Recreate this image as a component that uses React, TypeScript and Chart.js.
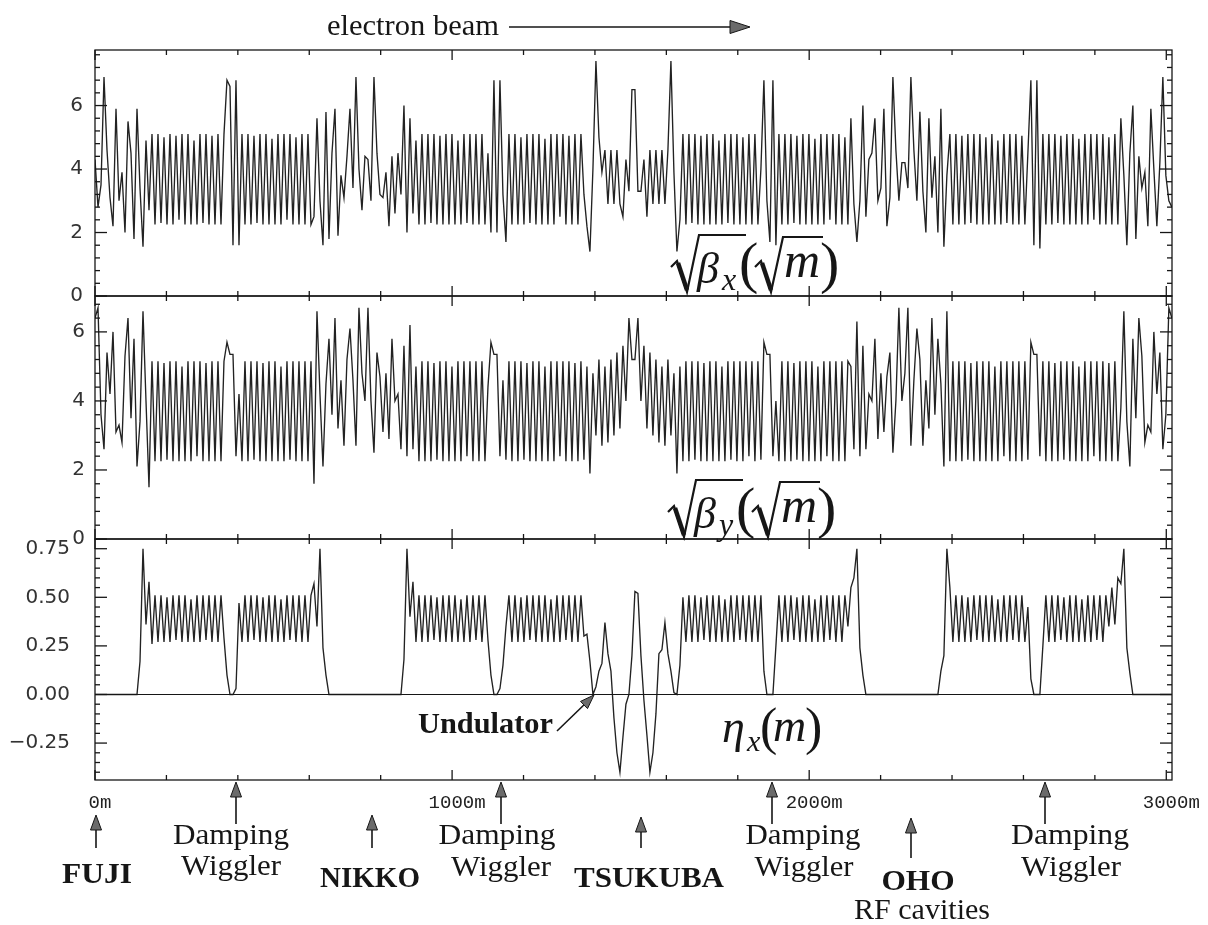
import React, { useEffect, useRef } from 'react';
import { Chart, registerables } from 'chart.js';

Chart.register(...registerables);

// ---------------- data ----------------
// Lattice functions sampled every S_STEP_M metres along the ring (0 .. 3016 m).
const S_STEP_M = 8.4;
const S_MAX_M = 3016;
const X_LABEL_VALUES = [0, 1000, 2000, 3000];
const BETA_LABEL_VALUES = [0, 2, 4, 6];
const ETA_LABEL_VALUES = [-0.25, 0, 0.25, 0.5, 0.75];

// sqrt(beta_x) [sqrt(m)]
const bxFujiIn = [4.3, 2.8, 3.5, 6.9, 4.6, 3.1, 2.2, 5.9, 3.0, 3.9, 2.0, 5.5, 4.5, 1.8, 5.9, 3.4, 1.55, 4.9, 2.7];
const bxArc1 = [5.1, 2.25, 5.1, 2.3, 5.0, 2.25, 5.1, 2.25, 5.05, 2.4, 5.1, 2.25, 5.1, 2.25, 4.9, 2.25, 5.1, 2.3, 5.1, 2.25, 5.05, 2.25, 5.1, 2.25, 5.1];
const bxWig1 = [6.8, 6.6, 1.6, 6.8, 1.6];
const bxArc2 = [5.1, 2.25, 5.1, 2.25, 5.05, 2.3, 5.1, 2.25, 5.1, 2.25, 4.95, 2.25, 5.1, 2.25, 5.1, 2.4, 5.1, 2.25, 5.0, 2.25, 5.1, 2.25, 5.1, 2.25];
const bxNikko = [2.5, 5.6, 3.0, 1.6, 5.8, 1.8, 4.5, 5.9, 1.9, 3.8, 3.1, 4.4, 5.9, 3.4, 6.9, 4.0, 2.7, 4.4, 4.3, 3.0, 6.9, 4.5, 3.2, 3.1, 3.9, 2.2, 4.4, 2.6, 4.5, 3.2, 6.0, 2.0, 5.6, 2.6, 4.9];
const bxArc3 = [2.25, 5.1, 2.25, 5.1, 2.3, 5.1, 2.25, 5.05, 2.25, 5.1, 2.25, 5.1, 2.25, 4.9, 2.25, 5.1, 2.3, 5.1, 2.25, 5.1, 2.25, 5.1, 2.25];
const bxWig2 = [4.5, 2.0, 6.8, 2.0, 6.8, 3.2, 1.7];
const bxArc4 = [5.1, 2.25, 5.1, 2.25, 5.0, 2.25, 5.1, 2.3, 5.1, 2.25, 5.1, 2.25, 4.95, 2.25, 5.1, 2.25, 5.1, 2.5, 5.1, 2.25, 5.05, 2.25, 5.1, 2.25, 5.1];
const bxTsukuba = [3.2, 2.2, 1.4, 4.0, 7.4, 5.0, 3.9, 4.6, 2.9, 4.6, 2.9, 4.6, 2.9, 2.5, 4.3, 3.3, 6.5, 6.5, 3.3, 3.3, 4.3, 2.5, 4.6, 2.9, 4.6, 2.9, 4.6, 2.9, 4.6, 7.4, 3.9, 1.4, 2.4];
const bxArc5 = [5.1, 2.25, 5.1, 2.3, 5.1, 2.25, 5.05, 2.25, 5.1, 2.25, 5.1, 2.25, 4.9, 2.25, 5.1, 2.3, 5.1, 2.25, 5.1, 2.25, 5.0, 2.25, 5.1, 2.25, 5.1, 2.25];
const bxWig3 = [4.0, 6.8, 3.0, 1.7, 6.8, 1.6];
const bxArc6 = [5.1, 2.25, 5.1, 2.25, 5.1, 2.3, 5.05, 2.25, 5.1, 2.25, 5.1, 2.25, 4.95, 2.25, 5.1, 2.25, 5.1, 2.4, 5.1, 2.25, 5.1, 2.25, 5.0, 2.25];
const bxOho = [5.6, 2.9, 1.7, 3.0, 6.0, 2.5, 4.3, 4.5, 5.6, 3.0, 3.4, 5.9, 2.2, 3.1, 6.9, 4.6, 3.0, 4.2, 4.2, 3.4, 6.9, 4.6, 3.0, 5.8, 3.3, 2.0, 5.6, 3.1, 4.4, 2.0, 5.9, 1.55, 3.8];
const bxArc7 = [5.1, 2.25, 5.1, 2.25, 5.05, 2.25, 5.1, 2.3, 5.1, 2.25, 5.1, 2.25, 5.0, 2.25, 5.1, 2.25, 4.9, 2.25, 5.1, 2.3, 5.1, 2.25, 5.1, 2.25, 5.05, 2.25];
const bxWig4 = [4.5, 6.8, 1.6, 6.8, 1.5];
const bxArc8 = [5.1, 2.25, 5.1, 2.25, 5.1, 2.3, 5.05, 2.25, 5.1, 2.25, 5.1, 2.25, 4.95, 2.25, 5.1, 2.25, 5.1, 2.4, 5.1, 2.25, 5.1, 2.25, 5.0, 2.25, 5.1, 2.25];
const bxFujiOut = [5.6, 3.8, 1.6, 4.5, 6.0, 1.8, 4.4, 3.4, 3.9, 2.2, 5.9, 4.0, 2.2, 4.2, 6.9, 3.8, 3.0, 2.8];

// sqrt(beta_y) [sqrt(m)]
const byFujiIn = [6.4, 6.7, 3.6, 2.6, 5.4, 4.2, 6.0, 3.1, 3.3, 2.8, 5.3, 6.4, 3.5, 5.8, 2.1, 3.4, 6.6, 4.0, 1.5];
const byArc1 = [5.15, 2.25, 5.15, 2.25, 5.1, 2.3, 5.15, 2.25, 5.15, 2.25, 5.0, 2.25, 5.15, 2.25, 5.15, 2.4, 5.15, 2.25, 5.1, 2.25, 5.15, 2.25, 5.15, 2.25, 5.15];
const byWig1 = [5.7, 5.35, 5.35, 2.4, 4.2];
const byArc2 = [2.25, 5.15, 2.25, 5.15, 2.3, 5.15, 2.25, 5.1, 2.25, 5.15, 2.25, 5.15, 2.25, 5.0, 2.25, 5.15, 2.3, 5.15, 2.25, 5.15, 2.25, 5.15, 2.25, 5.15];
const byNikko = [1.6, 6.6, 4.2, 2.1, 4.5, 5.8, 3.6, 6.4, 3.2, 4.6, 2.7, 5.2, 6.1, 4.6, 2.7, 6.7, 4.8, 4.0, 6.7, 4.0, 2.5, 5.4, 4.7, 3.1, 4.8, 2.9, 5.8, 4.0, 4.2, 2.6, 5.6, 2.4, 6.2, 2.6, 5.0];
const byArc3 = [2.25, 5.15, 2.25, 5.15, 2.25, 5.1, 2.3, 5.15, 2.25, 5.15, 2.25, 5.0, 2.25, 5.15, 2.25, 5.15, 2.4, 5.15, 2.25, 5.15, 2.25, 5.15, 2.25];
const byWig2 = [4.4, 5.7, 5.35, 5.35, 2.4, 4.6, 2.3];
const byArc4 = [5.15, 2.25, 5.15, 2.25, 5.15, 2.3, 5.1, 2.25, 5.15, 2.25, 5.15, 2.25, 5.0, 2.25, 5.15, 2.25, 5.15, 2.4, 5.15, 2.25, 5.15, 2.25, 5.1, 2.25, 5.15];
const byTsukuba = [2.3, 5.0, 1.9, 4.8, 3.0, 5.2, 2.7, 5.0, 2.8, 5.2, 3.0, 5.4, 3.2, 5.6, 4.0, 6.4, 5.2, 5.2, 6.4, 4.0, 5.6, 3.2, 5.4, 3.0, 5.2, 2.8, 5.0, 2.7, 5.2, 3.0, 4.8, 1.9, 5.0];
const byArc5 = [2.25, 5.15, 2.25, 5.15, 2.3, 5.15, 2.25, 5.1, 2.25, 5.15, 2.25, 5.15, 2.25, 5.0, 2.25, 5.15, 2.3, 5.15, 2.25, 5.15, 2.25, 5.15, 2.4, 5.15, 2.25, 5.15];
const byWig3 = [2.3, 5.7, 5.35, 5.35, 2.4, 4.0];
const byArc6 = [2.25, 5.15, 2.25, 5.15, 2.25, 5.1, 2.3, 5.15, 2.25, 5.15, 2.25, 5.15, 2.25, 5.0, 2.25, 5.15, 2.4, 5.15, 2.25, 5.15, 2.25, 5.15, 2.25, 5.15];
const byOho = [5.0, 2.6, 6.3, 2.4, 5.6, 2.6, 4.2, 4.0, 5.8, 2.9, 4.8, 3.1, 4.7, 5.4, 2.5, 4.0, 6.7, 4.0, 4.8, 6.7, 2.7, 4.6, 6.1, 5.2, 2.7, 4.6, 3.2, 6.4, 3.6, 5.8, 4.5, 2.1, 6.6];
const byArc7 = [2.25, 5.15, 2.25, 5.15, 2.25, 5.15, 2.3, 5.1, 2.25, 5.15, 2.25, 5.15, 2.25, 5.15, 2.25, 5.0, 2.25, 5.15, 2.4, 5.15, 2.25, 5.15, 2.25, 5.15, 2.25, 5.15];
const byWig4 = [2.3, 5.7, 5.35, 5.35, 2.4];
const byArc8 = [5.15, 2.25, 5.15, 2.25, 5.1, 2.25, 5.15, 2.3, 5.15, 2.25, 5.15, 2.25, 5.0, 2.25, 5.15, 2.25, 5.15, 2.4, 5.15, 2.25, 5.15, 2.25, 5.1, 2.25, 5.15, 2.25];
const byFujiOut = [3.8, 6.6, 3.4, 2.1, 5.8, 3.5, 6.4, 5.3, 2.8, 3.3, 3.1, 6.0, 4.2, 5.4, 2.6, 3.6, 6.7, 6.4];

// eta_x [m]
const exStraightFujiIn = [0, 0, 0, 0, 0, 0, 0, 0, 0, 0, 0, 0, 0, 0];
const exRise1 = [0.0, 0.17, 0.75, 0.36, 0.58, 0.26];
const exArc1 = [0.51, 0.27, 0.51, 0.27, 0.5, 0.27, 0.51, 0.28, 0.51, 0.27, 0.51, 0.27, 0.49, 0.27, 0.51, 0.27, 0.51, 0.28, 0.51, 0.27, 0.51, 0.27, 0.51];
const exGap1 = [0.29, 0.10, 0.0, 0.0, 0.03, 0.47];
const exArc2 = [0.27, 0.51, 0.27, 0.51, 0.28, 0.51, 0.27, 0.5, 0.27, 0.51, 0.27, 0.51, 0.27, 0.49, 0.27, 0.51, 0.28, 0.51, 0.27, 0.51, 0.27, 0.51, 0.27, 0.51];
const exFall2 = [0.57, 0.35, 0.75, 0.24, 0.10, 0.0];
const exStraightNikko = [0, 0, 0, 0, 0, 0, 0, 0, 0, 0, 0, 0, 0, 0, 0, 0, 0, 0, 0, 0, 0, 0, 0];
const exRise3 = [0.0, 0.18, 0.75, 0.40, 0.58, 0.27];
const exArc3 = [0.51, 0.27, 0.51, 0.27, 0.51, 0.28, 0.5, 0.27, 0.51, 0.27, 0.51, 0.27, 0.51, 0.27, 0.49, 0.27, 0.51, 0.27, 0.51, 0.28, 0.51, 0.27, 0.51];
const exGap2 = [0.28, 0.10, 0.0, 0.0, 0.03, 0.15, 0.35];
const exArc4 = [0.51, 0.27, 0.51, 0.27, 0.5, 0.27, 0.51, 0.28, 0.51, 0.27, 0.51, 0.27, 0.51, 0.27, 0.49, 0.27, 0.51, 0.27, 0.51, 0.28, 0.51, 0.27, 0.51, 0.27, 0.51];
const exTsukuba = [0.30, 0.31, 0.17, 0.0, 0.04, 0.12, 0.16, 0.37, 0.21, 0.12, -0.12, -0.30, -0.40, -0.22, -0.05, 0.0, 0.20, 0.53, 0.52, 0.20, -0.03, -0.21, -0.40, -0.30, -0.10, 0.21, 0.23, 0.37, 0.21, 0.12, 0.01, 0.0, 0.15, 0.50];
const exArc5 = [0.27, 0.51, 0.27, 0.51, 0.27, 0.5, 0.28, 0.51, 0.27, 0.51, 0.27, 0.51, 0.27, 0.49, 0.27, 0.51, 0.27, 0.51, 0.28, 0.51, 0.27, 0.51, 0.27, 0.51, 0.27];
const exGap3 = [0.51, 0.12, 0.0, 0.0, 0.0, 0.25];
const exArc6 = [0.51, 0.27, 0.51, 0.27, 0.51, 0.28, 0.5, 0.27, 0.51, 0.27, 0.51, 0.27, 0.49, 0.27, 0.51, 0.27, 0.51, 0.28, 0.51, 0.27, 0.51, 0.27, 0.51, 0.35, 0.55];
const exFall3 = [0.60, 0.75, 0.24, 0.10];
const exStraightOho = [0, 0, 0, 0, 0, 0, 0, 0, 0, 0, 0, 0, 0, 0, 0, 0, 0, 0, 0, 0, 0, 0, 0, 0, 0];
const exRise4 = [0.12, 0.20, 0.75, 0.55, 0.27];
const exArc7 = [0.51, 0.27, 0.51, 0.27, 0.5, 0.27, 0.51, 0.28, 0.51, 0.27, 0.51, 0.27, 0.51, 0.27, 0.49, 0.27, 0.51, 0.27, 0.51, 0.28, 0.51, 0.27, 0.51, 0.27];
const exGap4 = [0.45, 0.08, 0.0, 0.0, 0.0, 0.25];
const exArc8 = [0.51, 0.27, 0.51, 0.27, 0.51, 0.28, 0.5, 0.27, 0.51, 0.27, 0.51, 0.27, 0.49, 0.27, 0.51, 0.27, 0.51, 0.28, 0.51, 0.27, 0.51, 0.35, 0.55, 0.36, 0.6];
const exFall4 = [0.57, 0.75, 0.24, 0.11, 0.0];
const exStraightFujiOut = [0, 0, 0, 0, 0, 0, 0, 0, 0, 0, 0, 0, 0];

const sqrtBetaX = [
  ...bxFujiIn, ...bxArc1, ...bxWig1, ...bxArc2, ...bxNikko, ...bxArc3, ...bxWig2, ...bxArc4,
  ...bxTsukuba, ...bxArc5, ...bxWig3, ...bxArc6, ...bxOho, ...bxArc7, ...bxWig4, ...bxArc8, ...bxFujiOut,
];
const sqrtBetaY = [
  ...byFujiIn, ...byArc1, ...byWig1, ...byArc2, ...byNikko, ...byArc3, ...byWig2, ...byArc4,
  ...byTsukuba, ...byArc5, ...byWig3, ...byArc6, ...byOho, ...byArc7, ...byWig4, ...byArc8, ...byFujiOut,
];
const etaX = [
  ...exStraightFujiIn, ...exRise1, ...exArc1, ...exGap1, ...exArc2, ...exFall2, ...exStraightNikko,
  ...exRise3, ...exArc3, ...exGap2, ...exArc4, ...exTsukuba, ...exArc5, ...exGap3, ...exArc6, ...exFall3,
  ...exStraightOho, ...exRise4, ...exArc7, ...exGap4, ...exArc8, ...exFall4, ...exStraightFujiOut,
];

// ---------------- styling ----------------
const W = 1208;
const H = 925;
const SERIF = "'Liberation Serif', 'Times New Roman', serif";
const INK = '#161616';
const LINE = '#222222';
const ARROW_FILL = '#6b6b6b';

const PANELS = [
  { id: 'yA', minor: 0.4, major: 2 },
  { id: 'yB', minor: 0.4, major: 2 },
  { id: 'yC', minor: 0.05, major: 0.25 },
];

const toPoints = (arr: number[]) => arr.map((v, i) => ({ x: i * S_STEP_M, y: v }));

const framePlugin = {
  id: 'panelFrames',
  afterDatasetsDraw(chart: any) {
    const { ctx, chartArea } = chart;
    const xs = chart.scales.x;
    const L = chartArea.left;
    const R = chartArea.right;
    const seg = (x1: number, y1: number, x2: number, y2: number) => {
      ctx.beginPath();
      ctx.moveTo(x1, y1);
      ctx.lineTo(x2, y2);
      ctx.stroke();
    };
    ctx.save();
    ctx.strokeStyle = INK;
    ctx.lineWidth = 1.3;
    PANELS.forEach((p) => {
      const ys = chart.scales[p.id];
      const T = ys.top;
      const B = ys.bottom;
      ctx.strokeRect(L, T, R - L, B - T);
      for (let m = 0; m <= 3000; m += 200) {
        const px = xs.getPixelForValue(m);
        const len = m % 1000 === 0 ? 10 : 5;
        seg(px, T, px, T + len);
        seg(px, B, px, B - len);
      }
      const k0 = Math.ceil(ys.min / p.minor - 1e-9);
      const k1 = Math.floor(ys.max / p.minor + 1e-9);
      for (let k = k0; k <= k1; k++) {
        const v = k * p.minor;
        const py = ys.getPixelForValue(v);
        const r = v / p.major;
        const isMajor = Math.abs(r - Math.round(r)) < 1e-6;
        const len = isMajor ? 12 : 5;
        seg(L, py, L + len, py);
        seg(R, py, R - len, py);
      }
    });
    const yc = chart.scales.yC;
    const y0 = yc.getPixelForValue(0);
    ctx.lineWidth = 1.2;
    seg(L, y0, R, y0);
    ctx.restore();
  },
};

function yScale(id: string, min: number, max: number, weight: number, labels: number[], pad: number, fmt: (v: number) => string) {
  return {
    type: 'linear',
    position: 'left',
    stack: 'panels',
    stackWeight: weight,
    min,
    max,
    grid: { display: false, drawTicks: false },
    border: { display: false },
    ticks: {
      autoSkip: false,
      padding: pad,
      color: '#333',
      font: { family: "'DejaVu Sans', sans-serif", size: 20 },
      callback: (v: number) => fmt(v),
    },
    afterBuildTicks: (scale: any) => {
      scale.ticks = labels.map((v) => ({ value: v }));
    },
    afterFit: (scale: any) => {
      scale.width = 95;
      scale.paddingTop = 0;
      scale.paddingBottom = 0;
    },
  };
}

function Arrow({ x, top, bottom }: { x: number; top: number; bottom: number }) {
  return (
    <g>
      <line x1={x} y1={top + 12} x2={x} y2={bottom} stroke={INK} strokeWidth={1.6} />
      <polygon points={`${x},${top} ${x - 5.5},${top + 15} ${x + 5.5},${top + 15}`} fill={ARROW_FILL} stroke={INK} strokeWidth={1} />
    </g>
  );
}

function Label({ x, y, w, text, bold }: { x: number; y: number; w: number; text: string; bold?: boolean }) {
  return (
    <text
      x={x}
      y={y}
      textAnchor="middle"
      textLength={w}
      lengthAdjust="spacingAndGlyphs"
      fontFamily={SERIF}
      fontSize={bold ? 30 : 29}
      fontWeight={bold ? 'bold' : 'normal'}
      fill={INK}
    >
      {text}
    </text>
  );
}

function SqrtBeta({ sub, dx, dy }: { sub: string; dx: number; dy: number }) {
  return (
    <g transform={`translate(${dx},${dy})`} fill={INK} fontFamily={SERIF}>
      <path d="M671 267 L677 261 L687 292 L699 235 L746 235" fill="none" stroke={INK} strokeWidth={2.2} />
      <path d="M678 263 L687 290" stroke={INK} strokeWidth={4.5} />
      <text x={697} y={283} fontSize={44} fontStyle="italic">β</text>
      <text x={722} y={290} fontSize={32} fontStyle="italic">{sub}</text>
      <text x={739} y={282} fontSize={58}>(</text>
      <path d="M755 267 L761 261 L771 292 L783 237 L823 237" fill="none" stroke={INK} strokeWidth={2.2} />
      <path d="M762 263 L771 290" stroke={INK} strokeWidth={4.5} />
      <text x={784} y={277} fontSize={50} fontStyle="italic">m</text>
      <text x={820} y={282} fontSize={58}>)</text>
    </g>
  );
}

export default function App() {
  const ref = useRef<HTMLCanvasElement>(null);

  useEffect(() => {
    if (!ref.current) return;
    const lineStyle = {
      borderColor: LINE,
      borderWidth: 1.35,
      pointRadius: 0,
      tension: 0,
      fill: false,
    };
    const chart = new Chart(ref.current, {
      type: 'line',
      data: {
        datasets: [
          { label: 'sqrt(beta_x)', data: toPoints(sqrtBetaX), yAxisID: 'yA', ...lineStyle },
          { label: 'sqrt(beta_y)', data: toPoints(sqrtBetaY), yAxisID: 'yB', ...lineStyle },
          { label: 'eta_x', data: toPoints(etaX), yAxisID: 'yC', ...lineStyle },
        ],
      } as any,
      options: {
        animation: false,
        responsive: false,
        maintainAspectRatio: false,
        devicePixelRatio: 1,
        events: [],
        layout: { padding: { left: 0, right: 36, top: 50, bottom: 105 } },
        plugins: { legend: { display: false }, tooltip: { enabled: false }, title: { display: false } },
        scales: {
          x: {
            type: 'linear',
            min: 0,
            max: S_MAX_M,
            grid: { display: false, drawTicks: false },
            border: { display: false },
            ticks: {
              autoSkip: false,
              maxRotation: 0,
              padding: 12,
              labelOffset: 5,
              color: '#222',
              font: { family: "'Liberation Mono', monospace", size: 19 },
              callback: (v: number) => `${v}m`,
            },
            afterBuildTicks: (scale: any) => {
              scale.ticks = X_LABEL_VALUES.map((v) => ({ value: v }));
            },
            afterFit: (scale: any) => {
              scale.height = 40;
              scale.paddingLeft = 0;
              scale.paddingRight = 0;
            },
          },
          yC: yScale('yC', -0.44, 0.8, 241, ETA_LABEL_VALUES, 25, (v) => (v < 0 ? '\u2212' + Math.abs(v).toFixed(2) : v.toFixed(2))),
          yB: yScale('yB', 0, 7.04, 243, BETA_LABEL_VALUES, 10, (v) => String(v)),
          yA: yScale('yA', 0, 7.75, 246, BETA_LABEL_VALUES, 12, (v) => String(v)),
        },
      } as any,
      plugins: [framePlugin],
    });
    return () => chart.destroy();
  }, []);

  return (
    <div style={{ position: 'fixed', left: 0, top: 0, width: W, height: H, background: '#fff', overflow: 'hidden' }}>
      <canvas ref={ref} width={W} height={H} style={{ position: 'absolute', left: 0, top: 0, width: W, height: H }} />
      <svg width={W} height={H} style={{ position: 'absolute', left: 0, top: 0 }}>
        {/* beam direction */}
        <text x={327} y={35} fontFamily={SERIF} fontSize={29} textLength={172} lengthAdjust="spacingAndGlyphs" fill={INK}>
          electron beam
        </text>
        <line x1={509} y1={27} x2={733} y2={27} stroke={INK} strokeWidth={1.6} />
        <polygon points="730,20.5 750,27 730,33.5" fill={ARROW_FILL} stroke={INK} strokeWidth={1} />

        {/* formulas */}
        <SqrtBeta sub="x" dx={0} dy={0} />
        <SqrtBeta sub="y" dx={-3} dy={245} />
        <g fill={INK} fontFamily={SERIF}>
          <text x={722} y={742} fontSize={46} fontStyle="italic">η</text>
          <text x={747} y={751} fontSize={30} fontStyle="italic">x</text>
          <text x={760} y={744} fontSize={52}>(</text>
          <text x={773} y={741} fontSize={46} fontStyle="italic">m</text>
          <text x={805} y={744} fontSize={52}>)</text>
        </g>

        {/* undulator */}
        <text x={418} y={733} fontFamily={SERIF} fontSize={30} fontWeight="bold" textLength={135} lengthAdjust="spacingAndGlyphs" fill={INK}>
          Undulator
        </text>
        <line x1={557} y1={731} x2={588} y2={701} stroke={INK} strokeWidth={1.6} />
        <polygon points="594,695 587.5,708.6 580.5,701.4" fill={ARROW_FILL} stroke={INK} strokeWidth={1} />

        {/* location arrows */}
        <Arrow x={96} top={815} bottom={848} />
        <Arrow x={236} top={782} bottom={824} />
        <Arrow x={372} top={815} bottom={848} />
        <Arrow x={501} top={782} bottom={824} />
        <Arrow x={641} top={817} bottom={848} />
        <Arrow x={772} top={782} bottom={824} />
        <Arrow x={911} top={818} bottom={858} />
        <Arrow x={1045} top={782} bottom={824} />

        {/* location labels */}
        <Label x={97} y={883} w={70} text="FUJI" bold />
        <Label x={231} y={844} w={116} text="Damping" />
        <Label x={231} y={875} w={100} text="Wiggler" />
        <Label x={370} y={887} w={100} text="NIKKO" bold />
        <Label x={497} y={844} w={117} text="Damping" />
        <Label x={501} y={876} w={100} text="Wiggler" />
        <Label x={649} y={887} w={150} text="TSUKUBA" bold />
        <Label x={803} y={844} w={115} text="Damping" />
        <Label x={804} y={876} w={99} text="Wiggler" />
        <Label x={918} y={890} w={73} text="OHO" bold />
        <Label x={922} y={919} w={136} text="RF cavities" />
        <Label x={1070} y={844} w={118} text="Damping" />
        <Label x={1071} y={876} w={100} text="Wiggler" />
      </svg>
    </div>
  );
}
